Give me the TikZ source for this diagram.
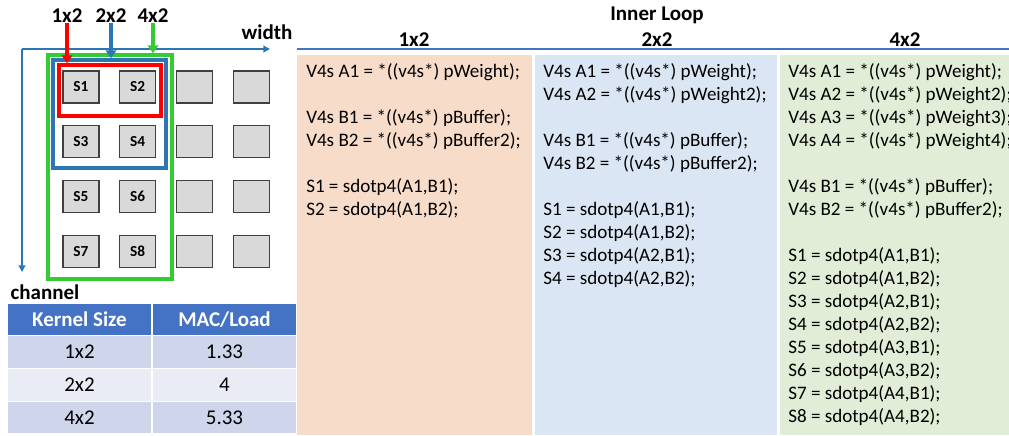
\documentclass[tikz,border=0pt]{standalone}
\usepackage{fontspec}
\setmainfont{Carlito}
\usetikzlibrary{arrows.meta,positioning}

\definecolor{axisblue}{HTML}{2E75B6}
\definecolor{hdrblue}{HTML}{4472C4}
\definecolor{kred}{HTML}{FF0000}
\definecolor{kgreen}{HTML}{33CC33}
\definecolor{porange}{HTML}{F8DCCA}
\definecolor{pblue}{HTML}{DAE6F3}
\definecolor{pgreen}{HTML}{E1EDD7}
\definecolor{rowA}{HTML}{CFD5EA}
\definecolor{rowB}{HTML}{E9EBF5}

\tikzset{
  lab/.style={font=\fontsize{15.75}{18}\selectfont\bfseries, inner sep=0pt},
  sq/.style={draw=black!75, fill=black!15, line width=0.8pt, minimum width=27pt,
    minimum height=24pt, inner sep=0pt, font=\fontsize{11.5}{12}\selectfont\bfseries},
  kbox/.style={draw, line width=2.6pt, inner sep=0pt},
  karrow/.style={line width=2.4pt, -{Triangle[width=8pt,length=6pt]}},
  axis/.style={axisblue, line width=1.5pt, -{Triangle[width=5pt,length=5pt]}},
  panel/.style={anchor=north west, inner sep=0pt, minimum height=285pt},
  code/.style={anchor=north west, align=left, inner sep=0pt,
    font=\fontsize{14.3}{17.25}\selectfont},
  cell/.style={draw=white, line width=1pt, minimum width=108.75pt,
    minimum height=24.56pt, inner sep=0pt, font=\fontsize{15.75}{18}\selectfont},
  hcell/.style={cell, fill=hdrblue, text=white, font=\fontsize{15.75}{18}\selectfont\bfseries}
}

\begin{document}
\begin{tikzpicture}[x=0.75pt, y=-0.75pt]
    \useasboundingbox (0,0) rectangle (1009,435);

    % axes
    \coordinate (o) at (22,49);
    \coordinate (wend) at (270,49);
    \coordinate (cend) at (22,272);
    \draw[axis] (o) -- (wend);
    \draw[axis] (o) -- (cend);
    \node (wlab) [lab] at (267,32) {width};
    \node (clab) [lab] at (45,292) {channel};

    % output grid
    \foreach \r/\c/\t in {1/1/S1, 1/2/S2, 2/1/S3, 2/2/S4, 3/1/S5, 3/2/S6, 4/1/S7, 4/2/S8,
        1/3/, 1/4/, 2/3/, 2/4/, 3/3/, 3/4/, 4/3/, 4/4/}
        \node (q\r\c) [sq] at ({81+56.7*(\c-1)}, {87+54.7*(\r-1)}) {\t};

    % kernel outlines
    \node (k4) [kbox, kgreen, minimum width=93pt, minimum height=168pt] at (110,167) {};
    \node (k2) [kbox, axisblue, minimum width=84.75pt, minimum height=81pt] at (109.5,114) {};
    \node (k1) [kbox, kred, minimum width=76.5pt, minimum height=38.25pt] at (110,90.5) {};

    \node (l1) [lab] at (67,16) {1x2};
    \node (l2) [lab] at (111,16) {2x2};
    \node (l4) [lab] at (153,16) {4x2};
    \draw[karrow, kred] (l1.south) -- (l1.south |- k1.north);
    \draw[karrow, axisblue] (l2.south) -- (l2.south |- k2.north);
    \draw[karrow, kgreen] (l4.south) -- (l4.south |- k4.north);

    % table
    \node (t11) [hcell] at (79.5,319.4) {Kernel Size};
    \node (t12) [hcell] at (224.5,319.4) {MAC/Load};
    \node (t21) [cell, fill=rowA] at (79.5,352.1) {1x2};
    \node (t22) [cell, fill=rowA] at (224.5,352.1) {1.33};
    \node (t31) [cell, fill=rowB] at (79.5,384.9) {2x2};
    \node (t32) [cell, fill=rowB] at (224.5,384.9) {4};
    \node (t41) [cell, fill=rowA] at (79.5,417.6) {4x2};
    \node (t42) [cell, fill=rowA] at (224.5,417.6) {5.33};

    % inner loop panels
    \node (title) [lab] at (657,15) {Inner Loop};
    \node (h1) [lab] at (414,40) {1x2};
    \node (h2) [lab] at (657,40) {2x2};
    \node (h4) [lab] at (905,40) {4x2};
    \coordinate (lineL) at (297,49);
    \coordinate (lineR) at (1009,49);
    \draw[hdrblue, line width=2.2pt] (lineL) -- (lineR);

    \node (p1) [panel, fill=porange, minimum width=176.25pt] at (297,55) {};
    \node (p2) [panel, fill=pblue, minimum width=181.5pt] at (535,55) {};
    \node (p3) [panel, fill=pgreen, minimum width=171.75pt] at (780,55) {};

    \node (c1) [code] at (306,63) {V4s A1 = *((v4s*) pWeight);\\[17.25pt]
        V4s B1 = *((v4s*) pBuffer);\\
        V4s B2 = *((v4s*) pBuffer2);\\[17.25pt]
        S1 = sdotp4(A1,B1);\\
        S2 = sdotp4(A1,B2);};
    \node (c2) [code] at (543,63) {V4s A1 = *((v4s*) pWeight);\\
        V4s A2 = *((v4s*) pWeight2);\\[17.25pt]
        V4s B1 = *((v4s*) pBuffer);\\
        V4s B2 = *((v4s*) pBuffer2);\\[17.25pt]
        S1 = sdotp4(A1,B1);\\
        S2 = sdotp4(A1,B2);\\
        S3 = sdotp4(A2,B1);\\
        S4 = sdotp4(A2,B2);};
    \node (c3) [code] at (788,63) {V4s A1 = *((v4s*) pWeight);\\
        V4s A2 = *((v4s*) pWeight2);\\
        V4s A3 = *((v4s*) pWeight3);\\
        V4s A4 = *((v4s*) pWeight4);\\[17.25pt]
        V4s B1 = *((v4s*) pBuffer);\\
        V4s B2 = *((v4s*) pBuffer2);\\[17.25pt]
        S1 = sdotp4(A1,B1);\\
        S2 = sdotp4(A1,B2);\\
        S3 = sdotp4(A2,B1);\\
        S4 = sdotp4(A2,B2);\\
        S5 = sdotp4(A3,B1);\\
        S6 = sdotp4(A3,B2);\\
        S7 = sdotp4(A4,B1);\\
        S8 = sdotp4(A4,B2);};
\end{tikzpicture}
\end{document}
